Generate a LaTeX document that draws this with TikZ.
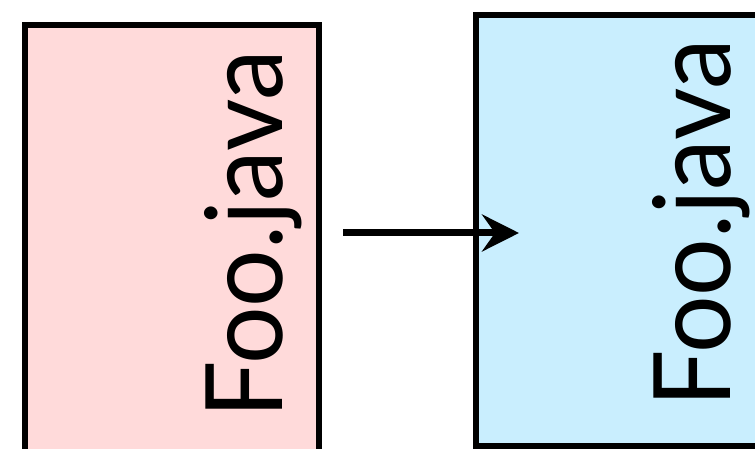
\documentclass[tikz,border=0pt]{standalone}
\usepackage{fontspec}
\setmainfont{Lato}
\usepackage{xcolor}
\usetikzlibrary{arrows.meta}
\definecolor{oldpink}{HTML}{FFDADA}
\definecolor{newblue}{HTML}{C9EEFE}

\begin{document}
\begin{tikzpicture}[x=1pt, y=1pt,
  box/.style={draw, line width=6pt, inner sep=0pt, anchor=north west},
  lbl/.style={rotate=90, anchor=base, inner sep=0pt,
              font=\fontsize{107}{107}\selectfont\addfontfeature{FakeStretch=0.95}},
  arr/.style={-{Stealth[length=37pt, width=37pt, inset=13pt]}, line width=7pt}]
  \useasboundingbox (0,0) rectangle (755,449);
  \clip (0,0) rectangle (755,449);
  % source file on the left, compiled file on the right
  \node[box, fill=oldpink, minimum width=294pt, minimum height=470pt] (src) at (22,427) {};
  \node[box, fill=newblue, minimum width=330pt, minimum height=431pt] (dst) at (473,437) {};
  \node[lbl] (srcname) at (282,215) {Foo.java};
  \node[lbl] (dstname) at (730,226) {Foo.java};
  \coordinate (from) at (343,216);
  \coordinate (to) at (519,216);
  \draw[arr] (from) -- (to);
\end{tikzpicture}
\end{document}
